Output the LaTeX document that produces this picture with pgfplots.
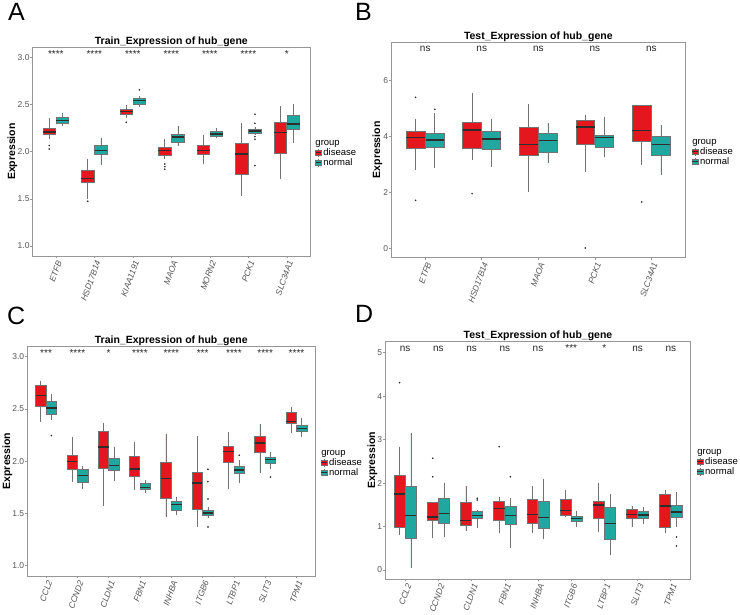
\documentclass[border=0pt]{standalone}
\usepackage{fontspec}
\setmainfont{Liberation Sans}
\usepackage{pgfplots}
\pgfplotsset{compat=1.18}
\usepgfplotslibrary{statistics}

\definecolor{dis}{RGB}{228,22,30}
\definecolor{nor}{RGB}{32,168,160}
\definecolor{boxline}{RGB}{115,115,115}
\definecolor{medline}{RGB}{45,45,45}
\definecolor{framecol}{RGB}{150,150,150}
\definecolor{ticktext}{RGB}{85,85,85}

% one prepared box: position, lower whisker, lower quartile, median, upper quartile, upper whisker, fill
\newcommand{\bx}[7]{\addplot[forget plot, fill=#7, draw=boxline, line width=0.7pt,
  boxplot prepared={draw position=#1, lower whisker=#2, lower quartile=#3,
  median=#4, upper quartile=#5, upper whisker=#6}] coordinates {};}

\tikzset{sig/.style={anchor=base, inner sep=0pt, font=\fontsize{10}{12}\selectfont, text=black!85}}

\pgfplotsset{
  /pgf/number format/assume math mode=true,
  legkey/.style={legend image code/.code={
    \draw[boxline, line width=0.5pt] (2.8pt,-3.8pt)--(2.8pt,3.8pt);
    \draw[fill=#1, draw=boxline, line width=0.5pt] (0pt,-2.8pt) rectangle (5.6pt,2.8pt);
    \draw[medline, line width=0.9pt] (0pt,0pt)--(5.6pt,0pt);}},
  panel/.style={
    scale only axis, anchor=south west,
    axis line style={draw=framecol, line width=0.9pt},
    tick pos=left, tick align=outside, major tick length=2.2pt,
    tick style={draw=framecol, line width=0.6pt},
    tick label style={font=\fontsize{8.5}{10}\selectfont, text=ticktext},
    yticklabel style={inner xsep=0.8pt},
    xticklabel style={rotate=70, anchor=north east, inner sep=1.2pt, font=\itshape\fontsize{8.5}{10}\selectfont},
    ylabel={Expression},
    ylabel style={font=\bfseries\fontsize{10.5}{12}\selectfont, anchor=center},
    title style={font=\bfseries\fontsize{10.5}{12}\selectfont, inner sep=2pt, yshift=-7.5pt},
    boxplot/draw direction=y,
    boxplot/box extend=0.33,
    boxplot/whisker extend=0,
    boxplot/every median/.style={draw=medline, line width=1.5pt},
    boxplot/every whisker/.style={draw=boxline, line width=0.7pt},
    legend cell align=left,
    legend style={draw=none, fill=none, anchor=north west, inner sep=0pt,
      font=\fontsize{9.5}{11}\selectfont, row sep=0.4pt, column sep=1.2pt,
      nodes={inner sep=0.5pt, text height=6.9pt, text depth=1.6pt}},
  },
  outl/.style={forget plot, only marks, mark=*, mark size=0.6pt, draw=medline, fill=medline},
}

\begin{document}
\begin{tikzpicture}
\path[use as bounding box] (0pt,0pt) rectangle (740pt,615pt);

\node[anchor=base west, inner sep=0pt, font=\fontsize{25}{25}\selectfont] at (8pt,594.3pt) {A};
\node[anchor=base west, inner sep=0pt, font=\fontsize{25}{25}\selectfont] at (355pt,594pt) {B};
\node[anchor=base west, inner sep=0pt, font=\fontsize{25}{25}\selectfont] at (7pt,290pt) {C};
\node[anchor=base west, inner sep=0pt, font=\fontsize{25}{25}\selectfont] at (355pt,292pt) {D};

% ---------------- A: training set, first gene panel
\begin{axis}[panel, at={(32.7pt,359pt)}, width=277.3pt, height=208.7pt,
  xmin=0.4, xmax=7.6, ymin=0.894, ymax=3.106,
  xtick={1,...,7}, xticklabels={ETFB,HSD17B14,KIAA1191,MAOA,MORN2,PCK1,SLC34A1},
  ytick={1,1.5,2,2.5,3}, yticklabels={1.0,1.5,2.0,2.5,3.0},
  ylabel style={at={(rel axis cs:-0.0728,0.5)}},
  title={Train\_Expression of hub\_gene},
  legend style={at={(1.018,0.565)}}]
\addlegendimage{empty legend}\addlegendentry{\hspace{-7.9pt}group}
\addlegendimage{legkey=dis}\addlegendentry{disease}
\addlegendimage{legkey=nor}\addlegendentry{normal}
\bx{0.83}{2.138}{2.180}{2.208}{2.251}{2.353}{dis}
\bx{1.17}{2.272}{2.304}{2.329}{2.360}{2.413}{nor}
\bx{1.83}{1.500}{1.671}{1.714}{1.806}{1.919}{dis}
\bx{2.17}{1.862}{1.975}{2.011}{2.067}{2.148}{nor}
\bx{2.83}{2.353}{2.399}{2.428}{2.449}{2.495}{dis}
\bx{3.17}{2.477}{2.505}{2.544}{2.562}{2.587}{nor}
\bx{3.83}{1.919}{1.965}{2.011}{2.049}{2.131}{dis}
\bx{4.17}{2.064}{2.099}{2.155}{2.184}{2.272}{nor}
\bx{4.83}{1.866}{1.975}{2.011}{2.067}{2.177}{dis}
\bx{5.17}{2.145}{2.159}{2.187}{2.216}{2.247}{nor}
\bx{5.83}{1.534}{1.760}{1.975}{2.088}{2.300}{dis}
\bx{6.17}{2.177}{2.194}{2.218}{2.236}{2.265}{nor}
\bx{6.83}{1.710}{1.982}{2.201}{2.307}{2.484}{dis}
\bx{7.17}{2.088}{2.237}{2.293}{2.382}{2.509}{nor}
\addplot[outl] coordinates {(0.83,2.064) (0.83,2.028) (1.83,1.475) (2.83,2.311)
  (3.17,2.654) (3.83,1.869) (3.83,1.841) (3.83,1.813)
  (6.17,2.396) (6.17,2.300) (6.17,2.159) (6.17,2.131) (6.17,1.852)};
\node[sig] at (axis cs:1,3.0) {****};
\node[sig] at (axis cs:2,3.0) {****};
\node[sig] at (axis cs:3,3.0) {****};
\node[sig] at (axis cs:4,3.0) {****};
\node[sig] at (axis cs:5,3.0) {****};
\node[sig] at (axis cs:6,3.0) {****};
\node[sig] at (axis cs:7,3.0) {*};
\end{axis}

% ---------------- B: test set, first gene panel
\begin{axis}[panel, at={(391.3pt,357.3pt)}, width=294pt, height=215.7pt,
  xmin=0.4, xmax=5.6, ymin=-0.337, ymax=7.385,
  xtick={1,...,5}, xticklabels={ETFB,HSD17B14,MAOA,PCK1,SLC34A1},
  ytick={0,2,4,6},
  ylabel style={at={(rel axis cs:-0.047,0.5)}},
  title={Test\_Expression of hub\_gene},
  legend style={at={(1.022,0.56)}}]
\addlegendimage{empty legend}\addlegendentry{\hspace{-7.9pt}group}
\addlegendimage{legkey=dis}\addlegendentry{disease}
\addlegendimage{legkey=nor}\addlegendentry{normal}
\bx{0.83}{2.803}{3.579}{3.960}{4.199}{4.616}{dis}
\bx{1.17}{2.887}{3.603}{3.877}{4.115}{4.831}{nor}
\bx{1.83}{3.161}{3.579}{4.235}{4.521}{5.547}{dis}
\bx{2.17}{2.899}{3.543}{3.913}{4.175}{4.640}{nor}
\bx{2.83}{2.028}{3.328}{3.722}{4.330}{5.177}{dis}
\bx{3.17}{3.042}{3.436}{3.853}{4.115}{4.497}{nor}
\bx{3.83}{2.744}{3.710}{4.342}{4.581}{4.772}{dis}
\bx{4.17}{3.257}{3.603}{3.972}{4.044}{4.688}{nor}
\bx{4.83}{2.994}{3.817}{4.223}{5.118}{5.129}{dis}
\bx{5.17}{2.624}{3.340}{3.710}{3.996}{4.414}{nor}
\addplot[outl] coordinates {(0.83,5.404) (0.83,1.718) (1.17,4.974) (1.83,1.956)
  (3.83,0.012) (4.83,1.658)};
\node[sig] at (axis cs:1,7.03) {ns};
\node[sig] at (axis cs:2,7.03) {ns};
\node[sig] at (axis cs:3,7.03) {ns};
\node[sig] at (axis cs:4,7.03) {ns};
\node[sig] at (axis cs:5,7.03) {ns};
\end{axis}

% ---------------- C: training set, second gene panel
\begin{axis}[panel, at={(27.3pt,39pt)}, width=288pt, height=230pt,
  xmin=0.4, xmax=9.6, ymin=0.901, ymax=3.102,
  xtick={1,...,9}, xticklabels={CCL2,CCND2,CLDN1,FBN1,INHBA,ITGB6,LTBP1,SLIT3,TPM1},
  ytick={1,1.5,2,2.5,3}, yticklabels={1.0,1.5,2.0,2.5,3.0},
  ylabel style={at={(rel axis cs:-0.0688,0.5)}},
  title={Train\_Expression of hub\_gene},
  legend style={at={(1.019,0.557)}}]
\addlegendimage{empty legend}\addlegendentry{\hspace{-7.9pt}group}
\addlegendimage{legkey=dis}\addlegendentry{disease}
\addlegendimage{legkey=nor}\addlegendentry{normal}
\bx{0.83}{2.379}{2.522}{2.627}{2.729}{2.771}{dis}
\bx{1.17}{2.395}{2.446}{2.507}{2.576}{2.643}{nor}
\bx{1.83}{1.804}{1.922}{1.998}{2.059}{2.231}{dis}
\bx{2.17}{1.737}{1.801}{1.861}{1.922}{1.957}{nor}
\bx{2.83}{1.574}{1.931}{2.136}{2.282}{2.362}{dis}
\bx{3.17}{1.810}{1.909}{1.960}{2.030}{2.140}{nor}
\bx{3.83}{1.724}{1.855}{1.925}{2.049}{2.187}{dis}
\bx{4.17}{1.692}{1.734}{1.750}{1.788}{1.820}{nor}
\bx{4.83}{1.463}{1.641}{1.836}{1.989}{2.260}{dis}
\bx{5.17}{1.485}{1.526}{1.584}{1.619}{1.654}{nor}
\bx{5.83}{1.370}{1.542}{1.791}{1.896}{2.241}{dis}
\bx{6.17}{1.453}{1.482}{1.504}{1.526}{1.558}{nor}
\bx{6.83}{1.734}{1.992}{2.094}{2.139}{2.276}{dis}
\bx{7.17}{1.788}{1.880}{1.915}{1.951}{2.011}{nor}
\bx{7.83}{1.890}{2.088}{2.174}{2.241}{2.352}{dis}
\bx{8.17}{1.922}{1.979}{2.014}{2.037}{2.091}{nor}
\bx{8.83}{2.273}{2.365}{2.378}{2.467}{2.518}{dis}
\bx{9.17}{2.234}{2.285}{2.311}{2.340}{2.410}{nor}
\addplot[outl] coordinates {(1.17,2.245) (6.17,1.922) (6.17,1.804) (6.17,1.638)
  (6.17,1.370) (7.17,2.056) (8.17,1.848)};
\node[sig] at (axis cs:1,3.0) {***};
\node[sig] at (axis cs:2,3.0) {****};
\node[sig] at (axis cs:3,3.0) {*};
\node[sig] at (axis cs:4,3.0) {****};
\node[sig] at (axis cs:5,3.0) {****};
\node[sig] at (axis cs:6,3.0) {***};
\node[sig] at (axis cs:7,3.0) {****};
\node[sig] at (axis cs:8,3.0) {****};
\node[sig] at (axis cs:9,3.0) {****};
\end{axis}

% ---------------- D: test set, second gene panel
\begin{axis}[panel, at={(385.3pt,35.7pt)}, width=305.4pt, height=238pt,
  xmin=0.4, xmax=9.6, ymin=-0.214, ymax=5.262,
  xtick={1,...,9}, xticklabels={CCL2,CCND2,CLDN1,FBN1,INHBA,ITGB6,LTBP1,SLIT3,TPM1},
  ytick={0,1,2,3,4,5},
  ylabel style={at={(rel axis cs:-0.042,0.5)}},
  title={Test\_Expression of hub\_gene},
  legend style={at={(1.020,0.556)}}]
\addlegendimage{empty legend}\addlegendentry{\hspace{-7.9pt}group}
\addlegendimage{legkey=dis}\addlegendentry{disease}
\addlegendimage{legkey=nor}\addlegendentry{normal}
\bx{0.83}{0.805}{0.974}{1.748}{2.186}{2.837}{dis}
\bx{1.17}{0.038}{0.729}{1.250}{1.933}{3.144}{nor}
\bx{1.83}{0.729}{1.150}{1.219}{1.549}{1.560}{dis}
\bx{2.17}{0.752}{1.074}{1.304}{1.649}{2.009}{nor}
\bx{2.83}{0.897}{1.035}{1.135}{1.549}{1.933}{dis}
\bx{3.17}{0.966}{1.181}{1.258}{1.350}{1.380}{nor}
\bx{3.83}{0.844}{1.143}{1.411}{1.580}{1.687}{dis}
\bx{4.17}{0.514}{1.043}{1.250}{1.472}{1.649}{nor}
\bx{4.83}{0.859}{1.074}{1.281}{1.633}{1.933}{dis}
\bx{5.17}{0.706}{0.959}{1.212}{1.572}{2.086}{nor}
\bx{5.83}{1.212}{1.250}{1.365}{1.626}{1.840}{dis}
\bx{6.17}{0.997}{1.120}{1.181}{1.235}{1.365}{nor}
\bx{6.83}{0.867}{1.181}{1.495}{1.572}{2.009}{dis}
\bx{7.17}{0.345}{0.713}{1.074}{1.434}{1.741}{nor}
\bx{7.83}{0.982}{1.181}{1.281}{1.396}{1.480}{dis}
\bx{8.17}{1.051}{1.181}{1.265}{1.350}{1.442}{nor}
\bx{8.83}{0.844}{0.974}{1.472}{1.748}{1.840}{dis}
\bx{9.17}{0.982}{1.204}{1.334}{1.480}{1.787}{nor}
\addplot[outl] coordinates {(0.83,4.310) (1.83,2.569) (1.83,2.147) (3.17,1.650)
  (3.17,1.610) (3.83,2.837) (4.17,2.147) (9.17,0.759) (9.17,0.552)};
\node[sig] at (axis cs:1,5.02) {ns};
\node[sig] at (axis cs:2,5.02) {ns};
\node[sig] at (axis cs:3,5.02) {ns};
\node[sig] at (axis cs:4,5.02) {ns};
\node[sig] at (axis cs:5,5.02) {ns};
\node[sig] at (axis cs:6,5.02) {***};
\node[sig] at (axis cs:7,5.02) {*};
\node[sig] at (axis cs:8,5.02) {ns};
\node[sig] at (axis cs:9,5.02) {ns};
\end{axis}
\end{tikzpicture}
\end{document}
